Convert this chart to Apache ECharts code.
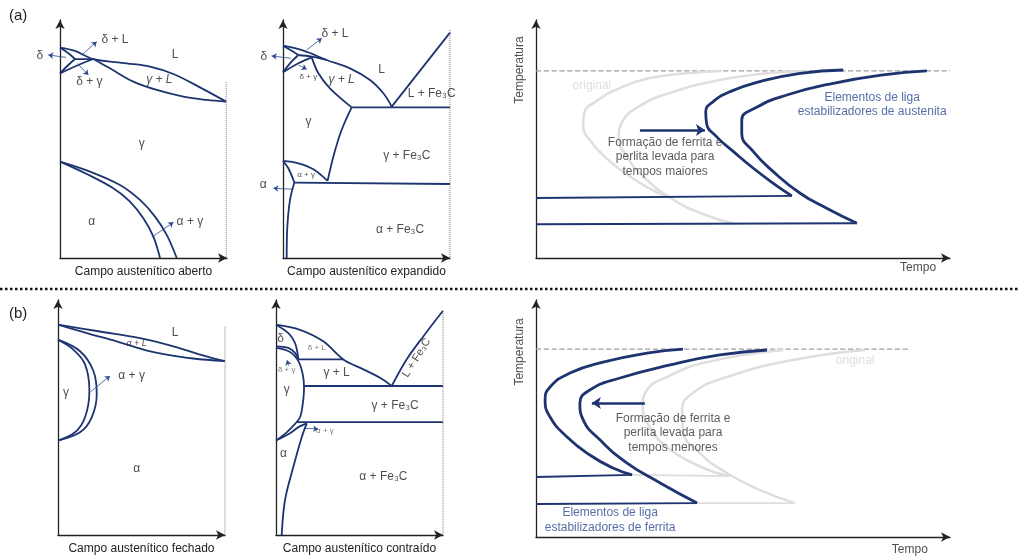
<!DOCTYPE html>
<html>
<head>
<meta charset="utf-8">
<script src="https://cdn.jsdelivr.net/npm/echarts@6.0.0/dist/echarts.min.js"></script>
<style>
  html, body { margin: 0; padding: 0; background: #fff; }
  #chart { width: 1019px; height: 556px; }
</style>
</head>
<body>
<div id="chart"></div>
<script>
// ---------- (a) campo austenítico aberto ----------
const a1Liquidus = [[0, 88.4], [9, 87.0], [20, 83.6], [39.9, 81.8], [53.9, 80.4], [67.9, 77.3], [83.8, 71.7], [99.5, 65.7]]
const a1DeltaSolidus = [[0, 88.4], [5, 86.0], [9, 83.6]]
const a1DeltaLower = [[0, 77.6], [5, 81.1], [9, 83.6]]
const a1Peritectic = [[9, 83.6], [20, 83.6]]
const a1DeltaGamma = [[0, 77.6], [11, 81.1], [20, 83.6]]
const a1Solidus = [[20, 83.6], [29.9, 79.7], [43.9, 74.1], [57.9, 70.6], [73.9, 67.8], [87.8, 66.4], [99.5, 65.7]]
const a1AlphaInner = [[0, 40.5], [16, 35.3], [31.9, 29.3], [41.9, 23.7], [49.9, 16.7], [55.9, 9.0], [59.9, 0]]
const a1AlphaOuter = [[0, 40.5], [18, 36.3], [35.9, 30.7], [47.9, 24.4], [56.9, 17.4], [63.9, 9.7], [69.9, 0]]
const a1Edge = [[99.5, 74], [99.5, 0]]
const a1Arrows = [[3.6, 84.3, -7, 85.3], [13, 85.3, 22, 90.9], [10.4, 81.8, 17, 76.9], [54.9, 8.7, 67.9, 15]]
const a1Labels = [[-12, 84.9, 'δ'], [32.9, 91.9, 'δ + L'], [17.6, 74.2, 'δ + γ'], [77.8, 15.3, 'α + γ'], [68.9, 85.6, 'L'], [48.9, 47.9, 'γ'], [19, 15.3, 'α']]
const a1Italic = [[59.5, 75.1, 'γ + L']]

// ---------- (a) campo austenítico expandido ----------
const a2Liquidus = [[0, 89.2], [12.2, 87.1], [26.1, 83.2], [40.1, 79.7], [52.1, 74.8], [60.1, 69.2], [65.1, 63.6]]
const a2DeltaSolidus = [[0, 89.2], [5.2, 87.1], [9.2, 85.3]]
const a2DeltaLower = [[0, 78.0], [4.2, 81.8], [9.2, 85.3]]
const a2Peritectic = [[9.2, 85.3], [17.2, 84.6], [26.1, 83.2]]
const a2DeltaGamma = [[0, 78.0], [9.2, 81.8], [17.2, 84.3]]
const a2Solidus = [[17.2, 84.3], [21.2, 77.6], [28.1, 71.3], [41.1, 63.3]]
const a2Cementite = [[65.1, 63.6], [100, 94.7]]
const a2Eutectic = [[41.1, 63.3], [100, 63.3]]
const a2Acm = [[41.1, 63.3], [35.1, 53.8], [30.7, 44.0], [26.7, 32.4]]
const a2AlphaGammaTop = [[0, 40.8], [9.2, 39.8], [18.2, 37.3], [26.7, 32.4]]
const a2AlphaGammaLeft = [[0, 40.8], [3.2, 37.7], [6.8, 31.7]]
const a2Eutectoid = [[6.8, 31.7], [100, 31.1]]
const a2AlphaSolvus = [[6.8, 31.7], [4.2, 24.4], [2.6, 13.2], [2.2, 0]]
const a2Edge = [[100, 95.8], [100, 0]]
const a2Arrows = [[14.2, 87.4, 23.2, 92.3], [4.6, 83.9, -6.8, 84.9], [9.2, 81.1, 14.2, 79.3], [5.6, 28.9, -5.8, 29.3]]
const a2Labels = [[31.1, 94.4, 'δ + L'], [-11.4, 84.6, 'δ'], [59.1, 79.0, 'L'], [89.0, 69.2, 'L + Fe₃C'], [15.2, 57.3, 'γ'],
  [74.1, 42.9, 'γ + Fe₃C'], [-11.8, 30.7, 'α'], [70.1, 11.8, 'α + Fe₃C']]
const a2Small = [[15.2, 76.2, 'δ + γ'], [13.8, 34.9, 'α + γ']]
const a2Italic = [[35.1, 74.8, 'γ + L']]

// ---------- (a) curvas TTT ----------
const a3Start = [[74.2, 79.0], [63.8, 77.6], [54.1, 74.1], [46.9, 69.9], [42.8, 65.7], [41.0, 61.5], [41.2, 56.6], [43.6, 51.0],
  [47.7, 44.7], [52.5, 37.7], [57.3, 31.4], [61.8, 26.1]]
const a3Finish = [[94.4, 78.6], [83.9, 76.9], [71.8, 73.4], [60.6, 68.5], [53.3, 63.3], [49.7, 58.0], [49.7, 52.4], [52.5, 44.7],
  [57.3, 36.3], [63.8, 27.2], [70.2, 20.9], [77.5, 14.6]]
const a3OrigStart = [[44.9, 78.6], [37.2, 77.7], [27.5, 75.6], [20.3, 71.4], [15.0, 66.4], [11.6, 60.5], [11.4, 55.5], [13.0, 49.6],
  [16.7, 42.4], [21.5, 35.7], [26.8, 29.8], [31.9, 25.6]]
const a3OrigFinish = [[65.0, 78.6], [56.5, 77.7], [44.4, 74.8], [32.9, 69.7], [25.1, 63.9], [20.8, 57.1], [20.0, 50.8], [22.0, 42.4],
  [26.3, 33.6], [32.9, 24.8], [40.3, 18.5], [48.1, 14.3]]
const a3HoldUpper = [[0, 25.2], [61.8, 26.1]]
const a3HoldLower = [[0, 14.2], [77.5, 14.6]]
const a3Dashed = [[0, 78.6], [100, 78.6]]
const a3Arrow = [[25.1, 53.8, 40.8, 53.8]]

// ---------- (b) campo austenítico fechado ----------
const b1Liquidus = [[0, 89.5], [25.1, 86.6], [49.1, 83.8], [69.1, 80.3], [85.0, 76.8], [100, 74.0]]
const b1Solidus = [[0, 89.5], [17.2, 85.9], [35.1, 82.4], [51.1, 78.9], [65.1, 76.8], [81.0, 75.1], [100, 74.0]]
const b1GammaInner = [[0, 83.1], [9.2, 78.9], [16.2, 72.6], [18.8, 61.3], [16.2, 50.1], [10.2, 43.7], [0, 40.2]]
const b1GammaOuter = [[0, 83.1], [13.2, 78.2], [21.2, 69.8], [23.2, 59.9], [20.2, 50.1], [13.2, 43.7], [0, 40.2]]
const b1Edge = [[100, 88.7], [100, 0]]
const b1Arrows = [[19.6, 61.0, 31.1, 67.7]]
const b1Labels = [[70.1, 85.9, 'L'], [4.8, 60.6, 'γ'], [44.1, 67.7, 'α + γ'], [47.1, 28.3, 'α']]
const b1Small = [[47.1, 81.7, 'α + L']]

// ---------- (b) campo austenítico contraído ----------
const b2Liquidus = [[0, 89.5], [14.4, 87.3], [28.3, 82.4], [40.3, 74.7], [52.3, 70.5], [62.3, 66.9], [69.3, 63.4]]
const b2Cementite = [[69.3, 63.4], [78.2, 74.7], [88.2, 84.5], [100, 95.4]]
const b2DeltaBoundary = [[0, 89.5], [7.4, 85.9], [11.4, 81.7], [13.4, 74.7]]
const b2DeltaLower = [[0, 80.3], [7.4, 79.6], [11.4, 77.5], [13.4, 74.7]]
const b2GammaLoop = [[0, 79.6], [8.4, 77.9], [13.4, 74.0], [16.0, 68.4], [16.8, 62.8], [16.0, 55.7], [14.4, 50.1], [11.4, 47.3], [6.4, 43.7], [0, 40.2]]
const b2AlphaGamma = [[0, 40.2], [8.4, 43.3], [13.4, 45.9], [18.4, 47.5]]
const b2AlphaSolvus = [[18.4, 47.5], [15.4, 41.6], [10.4, 29.0], [5.4, 14.9], [3.4, 0]]
const b2Peritectic = [[13.4, 74.7], [40.3, 74.7]]
const b2Eutectic = [[16.6, 63.4], [100, 63.4]]
const b2Eutectoid = [[12.5, 48.0], [100, 48.0]]
const b2Edge = [[100, 95.4], [100, 0]]
const b2Arrows = [[17.4, 45.4, 25.3, 45.1], [7.6, 72.0, 6.6, 74.4]]
const b2Labels = [[2.8, 83.5, 'δ'], [36.3, 69.1, 'γ + L'], [6.4, 62.0, 'γ'], [71.3, 55.0, 'γ + Fe₃C'], [4.4, 34.6, 'α'], [64.3, 24.8, 'α + Fe₃C']]
const b2Small = [[24.4, 79.6, 'δ + L'], [6.4, 70.5, 'δ + γ'], [29.3, 44.4, 'α + γ']]
const b2Rotated = [[84.2, 75.4, 'L + Fe₃C']]

// ---------- (b) curvas TTT ----------
const b3Start = [[35.5, 79.3], [26.8, 77.6], [16.2, 73.8], [8.2, 69.2], [3.4, 63.3], [2.2, 57.8], [3.4, 50.6], [7.5, 42.2],
  [13.0, 34.6], [18.6, 29.1], [23.2, 26.2]]
const b3Finish = [[55.8, 78.9], [44.4, 76.8], [32.4, 72.6], [20.3, 67.1], [13.0, 62.0], [10.6, 56.5], [11.4, 49.4], [15.5, 40.9],
  [22.0, 31.2], [30.0, 22.8], [38.9, 14.3]]
const b3OrigStart = [[59.7, 78.9], [41.3, 73.8], [31.6, 67.5], [26.8, 62.0], [25.8, 54.9], [27.5, 46.4], [31.6, 38.0], [37.9, 31.2],
  [43.7, 27.0], [46.9, 25.7]]
const b3OrigFinish = [[79.5, 78.9], [62.1, 74.7], [46.1, 67.5], [37.9, 60.8], [35.3, 53.6], [35.5, 45.1], [39.6, 35.4], [46.1, 27.0],
  [54.1, 19.8], [62.6, 14.3]]
const b3HoldUpper = [[0, 25.3], [23.2, 26.2]]
const b3HoldLower = [[0, 13.9], [38.9, 14.3]]
const b3OrigHoldUpper = [[23.2, 26.2], [46.9, 25.7]]
const b3OrigHoldLower = [[38.9, 14.3], [62.6, 14.3]]
const b3Dashed = [[0, 79.3], [89.9, 79.3]]
const b3Arrow = [[26.3, 56.5, 13.5, 56.5]]

const captions = ['Campo austenítico aberto', 'Campo austenítico expandido', '', 'Campo austenítico fechado', 'Campo austenítico contraído', '']

const FONT = 'Liberation Sans, Arial, sans-serif'
const BLUE = '#1e3470'
const TEXTBLUE = '#2b4a8e'
const GREY = '#dedede'

const grids = [
  { left: 60, top: 20, width: 167, height: 238 },
  { left: 283, top: 20, width: 167, height: 238 },
  { left: 536, top: 20, width: 414, height: 238 },
  { left: 58, top: 300, width: 167, height: 237 },
  { left: 276, top: 300, width: 167, height: 237 },
  { left: 536, top: 300, width: 414, height: 237 }
]

const axisLine = {
  show: true,
  symbol: ['none', 'arrow'],
  symbolSize: [7, 9],
  lineStyle: { color: '#222', width: 1.3 }
}

const xAxes = grids.map((g, i) => ({
  gridIndex: i, type: 'value', min: 0, max: 100,
  axisLine: axisLine, axisTick: { show: false }, axisLabel: { show: false }, splitLine: { show: false },
  name: captions[i], nameLocation: 'middle', nameGap: 8,
  nameTextStyle: { color: '#222', fontSize: 12, fontFamily: FONT }
}))
const yAxes = grids.map((g, i) => ({
  gridIndex: i, type: 'value', min: 0, max: 100,
  axisLine: axisLine, axisTick: { show: false }, axisLabel: { show: false }, splitLine: { show: false }
}))

const series = []

function curve(g, data, o = {}) {
  series.push({
    type: 'line', xAxisIndex: g, yAxisIndex: g, data: data,
    smooth: o.smooth === undefined ? 0.35 : o.smooth,
    symbol: 'none', clip: false, silent: true, z: o.z || 3,
    lineStyle: { color: o.color || BLUE, width: o.width || 1.8, type: o.type || 'solid' }
  })
}

function arrows(g, list, o = {}) {
  series.push({
    type: 'lines', coordinateSystem: 'cartesian2d', xAxisIndex: g, yAxisIndex: g,
    clip: false, silent: true, z: 4,
    symbol: ['none', 'arrow'], symbolSize: o.size || 5,
    lineStyle: { color: o.color || TEXTBLUE, width: o.width || 0.8, opacity: 1, curveness: 0 },
    data: list.map(a => ({ coords: [[a[0], a[1]], [a[2], a[3]]] }))
  })
}

function labels(g, list, o = {}) {
  series.push({
    type: 'scatter', xAxisIndex: g, yAxisIndex: g, clip: false, silent: true,
    symbolSize: 1, itemStyle: { color: 'rgba(0,0,0,0)' }, z: 5,
    data: list.map(l => ({ value: [l[0], l[1]], name: l[2] })),
    label: {
      show: true, position: 'inside', formatter: p => p.name,
      color: o.color || '#222', fontSize: o.size || 12, fontFamily: FONT,
      fontStyle: o.italic ? 'italic' : 'normal', rotate: o.rotate || 0,
      lineHeight: o.lh || 14, align: 'center'
    }
  })
}

// (a) aberto
;[a1Liquidus, a1DeltaSolidus, a1DeltaLower, a1DeltaGamma, a1Solidus, a1AlphaInner, a1AlphaOuter].forEach(d => curve(0, d))
curve(0, a1Peritectic, { smooth: false })
curve(0, a1Edge, { smooth: false, color: '#777', width: 1, type: 'dotted' })
arrows(0, a1Arrows)
labels(0, a1Labels)
labels(0, a1Italic, { italic: true })

// (a) expandido
;[a2Liquidus, a2DeltaSolidus, a2DeltaLower, a2Peritectic, a2DeltaGamma, a2Solidus, a2Acm, a2AlphaGammaTop, a2AlphaGammaLeft, a2AlphaSolvus].forEach(d => curve(1, d))
;[a2Cementite, a2Eutectic, a2Eutectoid].forEach(d => curve(1, d, { smooth: false }))
curve(1, a2Edge, { smooth: false, color: '#777', width: 1, type: 'dotted' })
arrows(1, a2Arrows)
labels(1, a2Labels)
labels(1, a2Small, { size: 8 })
labels(1, a2Italic, { italic: true })

// (a) TTT
curve(2, a3Dashed, { smooth: false, color: '#a0a0a0', width: 1.3, type: 'dashed', z: 2 })
curve(2, a3OrigStart, { color: GREY, width: 2.5, z: 2, smooth: 0.5 })
curve(2, a3OrigFinish, { color: GREY, width: 2.5, z: 2, smooth: 0.5 })
curve(2, a3Start, { width: 2.8, smooth: 0.5 })
curve(2, a3Finish, { width: 2.8, smooth: 0.5 })
curve(2, a3HoldUpper, { smooth: false, width: 1.9 })
curve(2, a3HoldLower, { smooth: false, width: 1.9 })
arrows(2, a3Arrow, { color: BLUE, width: 2.6, size: 9 })
labels(2, [[13.5, 72.3, 'original']], { color: '#d6d6d6' })
labels(2, [[81.2, 64.6, 'Elementos de liga\nestabilizadores de austenita']], { color: TEXTBLUE })
labels(2, [[31.2, 42.4, 'Formação de ferrita e\nperlita levada para\ntempos maiores']], { color: '#333', lh: 14.5 })
labels(2, [[-3.9, 79, 'Temperatura']], { rotate: 90 })
labels(2, [[92.3, -4.2, 'Tempo']])

// (b) fechado
;[b1Liquidus, b1Solidus, b1GammaInner, b1GammaOuter].forEach(d => curve(3, d))
curve(3, b1Edge, { smooth: false, color: '#777', width: 1, type: 'dotted' })
arrows(3, b1Arrows)
labels(3, b1Labels)
labels(3, b1Small, { size: 9, italic: true })

// (b) contraído
;[b2Liquidus, b2Cementite, b2DeltaBoundary, b2DeltaLower, b2GammaLoop, b2AlphaGamma, b2AlphaSolvus].forEach(d => curve(4, d))
;[b2Peritectic, b2Eutectic, b2Eutectoid].forEach(d => curve(4, d, { smooth: false }))
curve(4, b2Edge, { smooth: false, color: '#777', width: 1, type: 'dotted' })
arrows(4, b2Arrows)
labels(4, b2Labels)
labels(4, b2Small, { size: 8, color: '#555' })
labels(4, b2Rotated, { rotate: 58, size: 11 })

// (b) TTT
curve(5, b3Dashed, { smooth: false, color: '#a0a0a0', width: 1.3, type: 'dashed', z: 2 })
curve(5, b3OrigStart, { color: GREY, width: 2.5, z: 2, smooth: 0.5 })
curve(5, b3OrigFinish, { color: GREY, width: 2.5, z: 2, smooth: 0.5 })
curve(5, b3OrigHoldUpper, { smooth: false, color: GREY, width: 1.9, z: 2 })
curve(5, b3OrigHoldLower, { smooth: false, color: GREY, width: 1.9, z: 2 })
curve(5, b3Start, { width: 2.8, smooth: 0.5 })
curve(5, b3Finish, { width: 2.8, smooth: 0.5 })
curve(5, b3HoldUpper, { smooth: false, width: 1.9 })
curve(5, b3HoldLower, { smooth: false, width: 1.9 })
arrows(5, b3Arrow, { color: BLUE, width: 2.6, size: 9 })
labels(5, [[77.1, 74.3, 'original']], { color: '#d6d6d6' })
labels(5, [[33.1, 43.9, 'Formação de ferrita e\nperlita levada para\ntempos menores']], { color: '#333', lh: 14.5 })
labels(5, [[17.9, 7.2, 'Elementos de liga\nestabilizadores de ferrita']], { color: TEXTBLUE, lh: 15 })
labels(5, [[-3.9, 78.1, 'Temperatura']], { rotate: 90 })
labels(5, [[90.3, -5.5, 'Tempo']])

const chart = echarts.init(document.getElementById('chart'), null, { renderer: 'canvas' })
chart.setOption({
  animation: false,
  backgroundColor: '#fff',
  grid: grids,
  xAxis: xAxes,
  yAxis: yAxes,
  series: series,
  graphic: [
    { type: 'line', shape: { x1: 0, y1: 289, x2: 1019, y2: 289 }, style: { stroke: '#111', lineWidth: 2.5, lineDash: [2.5, 2.5] } },
    { type: 'text', left: 9, top: 8, style: { text: '(a)', fontSize: 15, fontFamily: FONT, fill: '#222' } },
    { type: 'text', left: 9, top: 306, style: { text: '(b)', fontSize: 15, fontFamily: FONT, fill: '#222' } }
  ]
})
</script>
</body>
</html>
